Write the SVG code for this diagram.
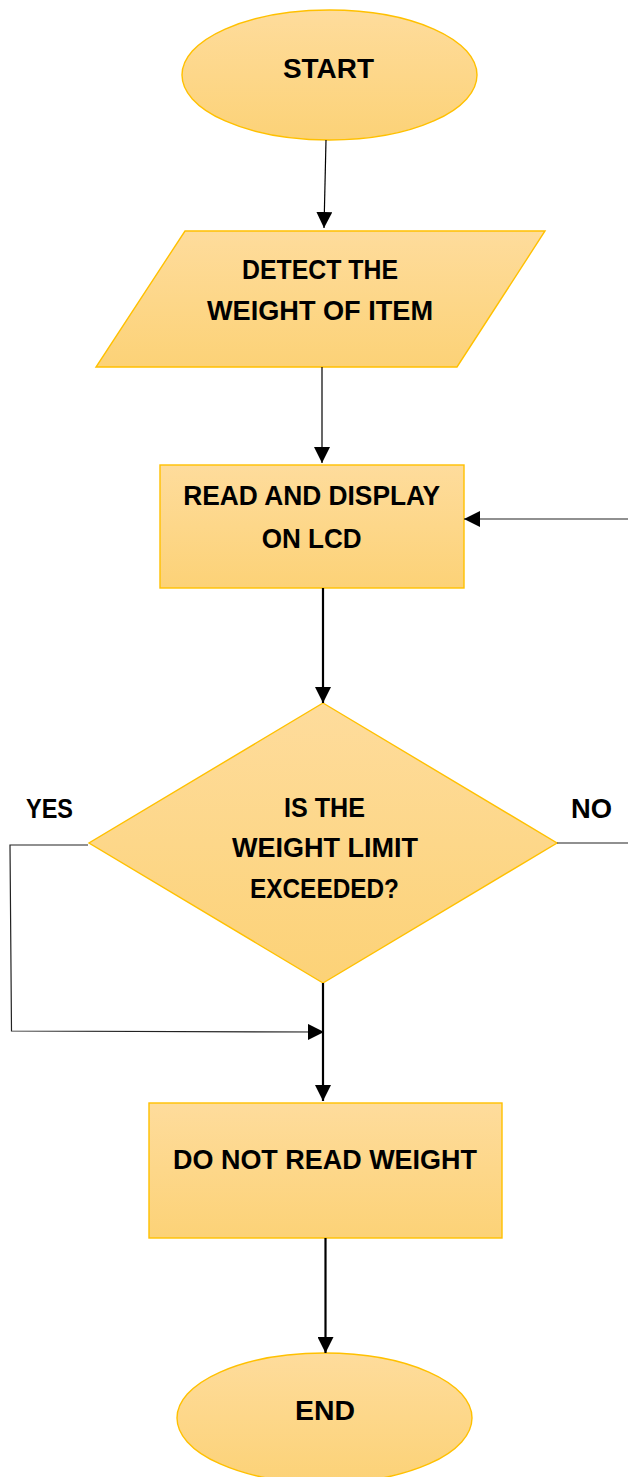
<svg xmlns="http://www.w3.org/2000/svg" width="628" height="1477" viewBox="0 0 628 1477">
<style>
.shape{fill:url(#gold);stroke:#FFC000;stroke-width:1.4}
.lbl{font-family:"Liberation Sans",Arial,sans-serif;font-weight:bold;font-size:27px;fill:#000;text-anchor:middle}
.lbl2{font-family:"Liberation Sans",Arial,sans-serif;font-weight:bold;font-size:27px;fill:#000}
.thin{fill:none;stroke:#000;stroke-width:1.2}
.thick{fill:none;stroke:#000;stroke-width:2.2}
.gray{fill:none;stroke:#222;stroke-width:1.2}
</style>
<defs>
<linearGradient id="gold" x1="0" y1="0" x2="0" y2="1">
<stop offset="0" stop-color="#FEDC9C"/>
<stop offset="1" stop-color="#FCD277"/>
</linearGradient>
<marker id="ah" markerUnits="userSpaceOnUse" markerWidth="16" markerHeight="16" viewBox="0 0 16 16" refX="16" refY="8" orient="auto">
<path d="M0,0 L16,8 L0,16 Z" fill="#000"/>
</marker>
</defs>

<g id="start">
<ellipse class="shape" cx="329.5" cy="75" rx="147.5" ry="65"/>
<text class="lbl" x="328.5" y="78" textLength="91" lengthAdjust="spacingAndGlyphs">START</text>
</g>

<g id="detect">
<polygon class="shape" points="185,231 545,231 457,367 96,367"/>
<text class="lbl" x="320" y="279" textLength="156" lengthAdjust="spacingAndGlyphs">DETECT THE</text>
<text class="lbl" x="320" y="320" textLength="226" lengthAdjust="spacingAndGlyphs">WEIGHT OF ITEM</text>
</g>

<g id="read">
<rect class="shape" x="160" y="465" width="304" height="123"/>
<text class="lbl" x="311.7" y="505" textLength="257" lengthAdjust="spacingAndGlyphs">READ AND DISPLAY</text>
<text class="lbl" x="311.7" y="548" textLength="100" lengthAdjust="spacingAndGlyphs">ON LCD</text>
</g>

<g id="decision">
<polygon class="shape" points="323,703 557,843 323,983 89,843"/>
<text class="lbl" x="324.5" y="817" textLength="81" lengthAdjust="spacingAndGlyphs">IS THE</text>
<text class="lbl" x="325" y="857" textLength="186" lengthAdjust="spacingAndGlyphs">WEIGHT LIMIT</text>
<text class="lbl" x="324.5" y="898" textLength="149" lengthAdjust="spacingAndGlyphs">EXCEEDED?</text>
</g>

<g id="donot">
<rect class="shape" x="149" y="1103" width="353" height="135"/>
<text class="lbl" x="325" y="1169" textLength="304" lengthAdjust="spacingAndGlyphs">DO NOT READ WEIGHT</text>
</g>

<g id="end">
<ellipse class="shape" cx="324.5" cy="1418" rx="147.5" ry="65"/>
<text class="lbl" x="325" y="1420" textLength="60" lengthAdjust="spacingAndGlyphs">END</text>
</g>

<g id="connectors">
<line class="thin" x1="326" y1="140" x2="324" y2="228" marker-end="url(#ah)"/>
<line class="thin" x1="322" y1="367" x2="322" y2="463" marker-end="url(#ah)"/>
<line class="thick" x1="323" y1="588" x2="323" y2="703" marker-end="url(#ah)"/>
<line class="gray" x1="628" y1="519" x2="464" y2="519" marker-end="url(#ah)"/>
<line class="gray" x1="557" y1="843" x2="628" y2="843"/>
<polyline class="gray" points="88,845 10,845 11.5,1031 324,1032" marker-end="url(#ah)"/>
<line class="thick" x1="323" y1="983" x2="323" y2="1101" marker-end="url(#ah)"/>
<line class="thick" x1="325.5" y1="1238" x2="325.5" y2="1353" marker-end="url(#ah)"/>
</g>

<g id="labels">
<text class="lbl2" x="26" y="818" textLength="47" lengthAdjust="spacingAndGlyphs">YES</text>
<text class="lbl2" x="571" y="818" textLength="41" lengthAdjust="spacingAndGlyphs">NO</text>
</g>
</svg>
